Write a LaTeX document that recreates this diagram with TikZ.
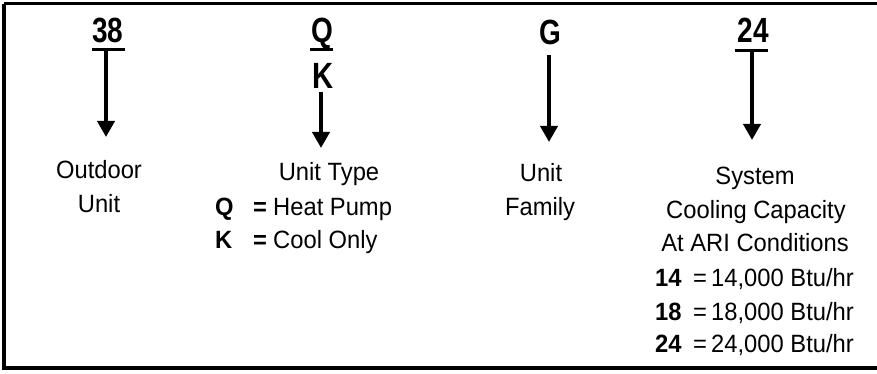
\documentclass[tikz,border=0pt]{standalone}
\usepackage{fontspec}
\setmainfont{Liberation Sans}
\newfontfamily\hdrfont{Liberation Sans}[FakeStretch=0.8]
\newfontfamily\bodyfont{Liberation Sans}[FakeStretch=0.95]
\usetikzlibrary{arrows.meta}
\begin{document}
\begin{tikzpicture}[x=1pt,y=-1pt,
  hdr/.style={inner sep=0pt,anchor=base,font=\hdrfont\bfseries\fontsize{35}{40}\selectfont},
  body/.style={inner sep=0pt,anchor=base,font=\bodyfont\fontsize{25}{30}\selectfont},
  bodyl/.style={body,anchor=base west},
  uline/.style={line width=3pt},
  arr/.style={line width=3.8pt,-{Triangle[width=17pt,length=16pt]}},
  frame/.style={line width=3.6pt}]
\useasboundingbox (0,0) rectangle (877,374);
\draw[frame] (4,3.6) -- (4,368) -- (885,368);
\draw[frame] (4,3.6) -- (885,3.6);

% headers
\node[hdr] (h38) at (108,43) {38};
\node[hdr] (hQ) at (322,43) {Q};
\node[hdr,font=\hdrfont\bfseries\fontsize{36.5}{40}\selectfont] (hK) at (323,89) {K};
\node[hdr] (hG) at (550,45) {G};
\node[hdr] (h24) at (753,43) {24};

% underlines
\coordinate (u38a) at (92,49.5); \coordinate (u38b) at (125,49.5);
\coordinate (uQa) at (310,50); \coordinate (uQb) at (333,50);
\coordinate (u24a) at (735,51); \coordinate (u24b) at (768,51);
\draw[uline] (u38a) -- (u38b);
\draw[uline] (uQa) -- (uQb);
\draw[uline] (u24a) -- (u24b);

% arrow ends
\coordinate (s38) at (106,50); \coordinate (t38) at (106,137);
\coordinate (sK) at (321,92); \coordinate (tK) at (321,148);
\coordinate (sG) at (549,55); \coordinate (tG) at (549,142);
\coordinate (s24) at (752,52); \coordinate (t24) at (752,140);
\draw[arr] (s38) -- (t38);
\draw[arr] (sK) -- (tK);
\draw[arr] (sG) -- (tG);
\draw[arr] (s24) -- (t24);

% descriptions
\node[body] (d1a) at (99,178.5) {Outdoor};
\node[body] (d1b) at (99,212) {Unit};

\node[body] (d2a) at (329,181) {Unit Type};
\node[bodyl] (d2q) at (215,215) {\bfseries Q};
\node[bodyl] (d2qe) at (253,215) {\bfseries =};
\node[bodyl] (d2qt) at (273,215) {Heat Pump};
\node[bodyl] (d2k) at (215,248) {\bfseries K};
\node[bodyl] (d2ke) at (253,248) {\bfseries =};
\node[bodyl] (d2kt) at (273,248) {Cool Only};

\node[body] (d3a) at (541,182) {Unit};
\node[body] (d3b) at (540,215) {Family};

\node[body] (d4a) at (755,185) {System};
\node[body] (d4b) at (756,218) {Cooling Capacity};
\node[body] (d4c) at (755,251) {At ARI Conditions};
\node[bodyl] (d4n1) at (655,286) {\bfseries 14};
\node[bodyl] (d4e1) at (693,286) {=};
\node[bodyl] (d4t1) at (711,286) {14,000 Btu/hr};
\node[bodyl] (d4n2) at (655,320) {\bfseries 18};
\node[bodyl] (d4e2) at (693,320) {=};
\node[bodyl] (d4t2) at (711,320) {18,000 Btu/hr};
\node[bodyl] (d4n3) at (655,352) {\bfseries 24};
\node[bodyl] (d4e3) at (693,352) {=};
\node[bodyl] (d4t3) at (711,352) {24,000 Btu/hr};
\end{tikzpicture}
\end{document}
